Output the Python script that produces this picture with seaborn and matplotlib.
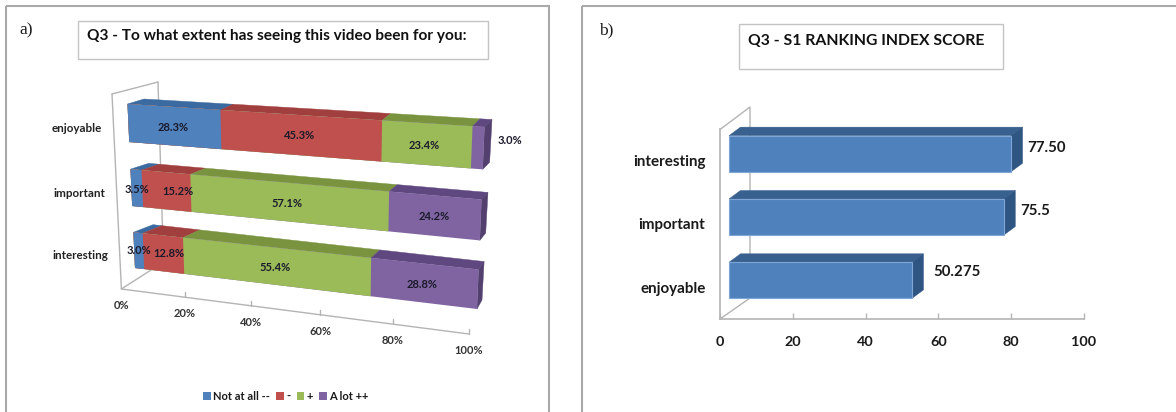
import numpy as np
import pandas as pd
import matplotlib
matplotlib.use("Agg")
import matplotlib.pyplot as plt
from matplotlib.patches import Patch, Polygon, Rectangle
from matplotlib.transforms import Affine2D, Transform
import seaborn as sns

# ---- survey values ----
items_a = ["enjoyable", "important", "interesting"]
answers = ["Not at all --", "-", "+", "A lot ++"]
not_at_all = [28.3, 3.5, 3.0]
minus = [45.3, 15.2, 12.8]
plus = [23.4, 57.1, 55.4]
a_lot = [3.0, 24.2, 28.8]
percent_ticks = [0, 20, 40, 60, 80, 100]

items_b = ["interesting", "important", "enjoyable"]
index_scores = [77.5, 75.5, 50.275]
index_labels = ["77.50", "75.5", "50.275"]
score_ticks = [0, 20, 40, 60, 80, 100]

# ---- styling ----
FACE = ["#4F81BD", "#C0504D", "#9BBB59", "#8064A2"]
TOP = ["#3A6A9F", "#A03F3D", "#79933F", "#5F4880"]
SIDE = ["#3A6A9F", "#A03F3D", "#79933F", "#54406F"]
GRID = "#B4B4B4"
FRAME = "#A9A9A9"
BAR_W = 0.58
W, H = 1176, 412

sns.set_theme(style="white")
plt.rcParams["font.family"] = ["Lato", "DejaVu Sans"]
plt.rcParams["text.color"] = "#1A1A1A"

fig = plt.figure(figsize=(W / 100, H / 100), dpi=100, facecolor="white")
canvas = fig.add_axes([0, 0, 1, 1], zorder=0)
canvas.set_xlim(0, W)
canvas.set_ylim(H, 0)
canvas.axis("off")


def quad_matrix(corners):
    """Homography taking the unit square to four pixel corners (tl, tr, bl, br)."""
    (x0, y0), (x1, y1), (x2, y2), (x3, y3) = corners
    src = [(0, 0), (1, 0), (0, 1), (1, 1)]
    dst = [(x0, y0), (x1, y1), (x2, y2), (x3, y3)]
    A, b = [], []
    for (u, v), (x, y) in zip(src, dst):
        A.append([u, v, 1, 0, 0, 0, -u * x, -v * x])
        A.append([0, 0, 0, u, v, 1, -u * y, -v * y])
        b += [x, y]
    h = np.linalg.solve(np.array(A, float), np.array(b, float))
    return np.append(h, 1).reshape(3, 3)


class ChartPlane(Transform):
    """Maps (percent, row) on a receding chart plane to canvas pixels."""

    input_dims = 2
    output_dims = 2
    has_inverse = False

    def __init__(self, corners):
        super().__init__()
        self.m = quad_matrix(corners)

    def transform_non_affine(self, pts):
        pts = np.asarray(pts, float)
        u = pts[:, 0] / 100.0
        v = (pts[:, 1] + BAR_W / 2) / (2 + BAR_W)
        q = np.c_[u, v, np.ones(len(u))] @ self.m.T
        return q[:, :2] / q[:, 2:]


front_plane = ChartPlane([(127.5, 104), (484.5, 127), (135, 268), (477, 309)])
back_plane = ChartPlane([(144, 99), (492, 119.5), (155.5, 259), (482, 300)])

# ---- panel a: stacked bars on a receding plane ----
ax_a = fig.add_axes([0, 0, 1, 1], zorder=1)
ax_a.patch.set_alpha(0)
parts = np.array([not_at_all, minus, plus, a_lot])
running = parts.cumsum(axis=0)

# longest running total first, so shorter totals paint over it
for i in range(3, -1, -1):
    df = pd.DataFrame({"item": items_a, "total": running[i]})
    before = len(ax_a.patches)
    sns.barplot(data=df, y="item", x="total", order=items_a, orient="y",
                color=FACE[i], saturation=1, width=BAR_W, ax=ax_a, zorder=3)
    for p in ax_a.patches[before:]:
        p.set_transform(front_plane + canvas.transData)
        p.set_clip_on(False)
        p.set_linewidth(0)
ax_a.set_xlim(0, 100)
ax_a.set_ylim(2.5, -0.5)
ax_a.axis("off")


def face(points_front, points_back, color):
    pts = np.vstack([front_plane.transform_non_affine(np.array(points_front, float)),
                     back_plane.transform_non_affine(np.array(points_back, float))])
    canvas.add_patch(Polygon(pts, closed=True, fc=color, ec=color, lw=0.3, zorder=3))


# Chart walls and floor
wall = [[(112, 94), (158, 82)], [(112, 94), (121.4, 289)],
        [(158, 82), (163.5, 262)], [(121.4, 289), (163.5, 262)]]
for (xa, ya), (xb, yb) in wall:
    canvas.plot([xa, xb], [ya, yb], color=GRID, lw=1.0, zorder=2)

# Top faces of every segment, plus the closing end face of each bar
for r in range(3):
    top = r - BAR_W / 2
    bot = r + BAR_W / 2
    start = 0.0
    for i in range(4):
        end = running[i][r]
        face([(start, top), (end, top)], [(end, top), (start, top)], TOP[i])
        start = end
    face([(100, top), (100, bot)], [(100, bot), (100, top)], SIDE[3])


# Percent axis along the floor edge
def floor_point(pct):
    t = pct / 100.0
    s = t / (1 + 0.123 * (1 - t))
    return 121.4 + 347.6 * s, 289 + 45 * s


xs, ys = zip(*[floor_point(p) for p in (percent_ticks[0], percent_ticks[-1])])
canvas.plot(xs, ys, color=GRID, lw=1.0, zorder=2)
for p in percent_ticks:
    x, y = floor_point(p)
    if p > 0:
        canvas.plot([x, x], [y, y - 5], color=GRID, lw=1.0, zorder=2)
    canvas.text(x, y + 16.5, f"{p}%", ha="center", va="center",
                fontsize=8.0, fontweight="bold", color="#333333")

# Row names sit just left of each bar
for r, name in enumerate(items_a):
    x, y = front_plane.transform_non_affine(np.array([[0.0, float(r)]]))[0]
    canvas.text(x - 26, y + 5.5, name, ha="right", va="center",
                fontsize=8.4, fontweight="bold", color="#222222")

# Segment labels, centred on the segments with a few nudged clear of neighbours
nudge = {(0, 1): (0, 1), (0, 2): (0, 0), (1, 1): (11, 1), (1, 2): (5, 0),
         (3, 0): (32, -7), (0, 0): (-1, 1), (2, 0): (-2, 1), (1, 0): (0, 0),
         (3, 1): (0, 1), (3, 2): (-1, 1), (2, 2): (1, 1), (2, 1): (0, 1)}
for i in range(4):
    for r in range(3):
        mid = running[i][r] - parts[i][r] / 2
        x, y = front_plane.transform_non_affine(np.array([[mid, float(r)]]))[0]
        dx, dy = nudge.get((i, r), (0, 0))
        ax_a.text(x + dx, y + dy, f"{parts[i][r]:.1f}%", transform=canvas.transData,
                  ha="center", va="center", fontsize=8.0, fontweight="bold",
                  color="#1A1A2A", zorder=6, clip_on=False)

handles = [Patch(fc=c, ec="none") for c in FACE]
fig.legend(handles, answers, loc="center", bbox_to_anchor=(286 / W, 1 - 396.5 / H),
           ncols=4, frameon=False, handlelength=0.7, handleheight=0.7,
           handletextpad=0.2, columnspacing=0.55, prop={"weight": "bold", "size": 8.0})

# ---- panel b: index score bars ----
left, right, top_y, floor_y = 720, 1084, 129, 319
ax_b = fig.add_axes([left / W, 1 - floor_y / H, (right - left) / W, (floor_y - top_y) / H], zorder=1)
ax_b.patch.set_alpha(0)
df_b = pd.DataFrame({"item": items_b, "score": index_scores})
sns.barplot(data=df_b, y="item", x="score", order=items_b, orient="y",
            color=FACE[0], saturation=1, width=0.57, ax=ax_b, zorder=3)
ax_b.set_xlim(0, 100)
ax_b.set_ylim(2.5, -0.5)
ax_b.set_xticks(score_ticks)
ax_b.set_xlabel("")
ax_b.set_ylabel("")
for s in ("top", "right"):
    ax_b.spines[s].set_visible(False)
for s in ("left", "bottom"):
    ax_b.spines[s].set_color(GRID)
    ax_b.spines[s].set_linewidth(1.2)
ax_b.tick_params(axis="x", direction="in", length=4.5, width=1.0, color=GRID, pad=12,
                 labelsize=10.4, labelcolor="#1A1A1A", bottom=True)
ax_b.tick_params(axis="y", length=0, pad=10.5, labelsize=10.9, labelcolor="#1A1A1A")
for lab in ax_b.get_xticklabels() + ax_b.get_yticklabels():
    lab.set_fontweight("bold")

# The bars stand a little behind the axis plane
shift_px = (9, 7)
ax_b.figure.canvas.draw()
for p in ax_b.patches:
    p.set_transform(ax_b.transData + Affine2D().translate(*shift_px))
    p.set_linewidth(0.8)
    p.set_edgecolor("#7FA6D6")

canvas.plot([720, 750, 750], [129.5, 107, 298], color=GRID, lw=1.0, zorder=2)
canvas.plot([720, 750], [319, 298], color=GRID, lw=1.0, zorder=2)

label_spot = [(1047, 148), (1035.5, 211), (957.5, 272.5)]
to_canvas = ax_b.transData + canvas.transData.inverted()
for r, score in enumerate(index_scores):
    (xl, yt) = to_canvas.transform((0, r - 0.285))
    (xr, yb) = to_canvas.transform((score, r + 0.285))
    xl, xr = xl + shift_px[0], xr + shift_px[0]
    yt, yb = yt - shift_px[1], yb - shift_px[1]
    d = (11.5, -8.5)
    canvas.add_patch(Polygon([(xl, yt), (xr, yt), (xr + d[0], yt + d[1]), (xl + d[0], yt + d[1])],
                             closed=True, fc="#38618F", ec="#38618F", lw=0.3, zorder=3))
    canvas.add_patch(Polygon([(xr, yt), (xr, yb), (xr + d[0], yb + d[1]), (xr + d[0], yt + d[1])],
                             closed=True, fc="#2F5583", ec="#2F5583", lw=0.3, zorder=3))
    canvas.text(*label_spot[r], index_labels[r], ha="center", va="center",
                fontsize=10.8, fontweight="bold", color="#1A1A1A", zorder=6)

# ---- panel frames, captions and title boxes ----
canvas.add_patch(Rectangle((6, 5.5), 543, 430, fc="none", ec=FRAME, lw=1.5, clip_on=True, zorder=1))
canvas.add_patch(Rectangle((582, 5.5), 620, 430, fc="none", ec=FRAME, lw=1.5, clip_on=True, zorder=1))
canvas.add_patch(Rectangle((78, 21), 410, 38, fc="white", ec="#C4C4C4", lw=1.0, zorder=1))
canvas.add_patch(Rectangle((739, 24), 264, 45, fc="white", ec="#C4C4C4", lw=1.0, zorder=1))
canvas.text(87, 35.5, "Q3 - To what extent has seeing this video been for you:", ha="left",
            va="center", fontsize=11.05, fontweight="bold", color="#111111")
canvas.text(748.5, 41, "Q3 - S1 RANKING INDEX SCORE", ha="left", va="center",
            fontsize=11.3, fontweight="bold", color="#111111")
canvas.text(19, 30, "a)", family="Liberation Serif", fontsize=12.5, ha="left", va="center")
canvas.text(599, 30, "b)", family="Liberation Serif", fontsize=12.5, ha="left", va="center")

fig.savefig("out.png", dpi=100, facecolor="white")
